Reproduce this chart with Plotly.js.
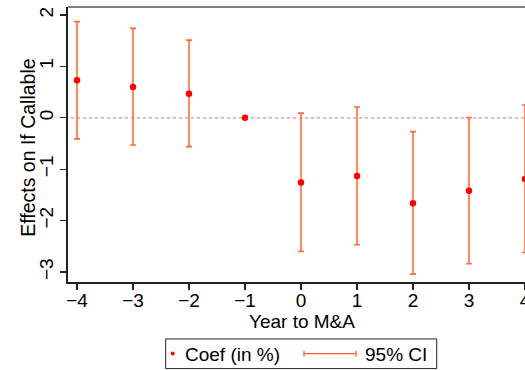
<!DOCTYPE html>
<html>
<head>
<meta charset="utf-8">
<script src="https://cdn.plot.ly/plotly-3.0.1.min.js"></script>
<style>
html, body { margin: 0; padding: 0; overflow: hidden; background: #fff; width: 525px; height: 370px; }
#chart { width: 545px; height: 370px; }
</style>
</head>
<body>
<div id="chart"></div>
<script>
// Data
const years = [-4, -3, -2, -1, 0, 1, 2, 3, 4];
const coef  = [0.73, 0.60, 0.47, 0.00, -1.26, -1.13, -1.66, -1.42, -1.19];
const ciLow = [-0.41, -0.53, -0.56, null, -2.60, -2.47, -3.04, -2.84, -2.62];
const ciHigh = [1.87, 1.74, 1.51, null, 0.09, 0.21, -0.27, 0.005, 0.25];
const xTicks = [-4, -3, -2, -1, 0, 1, 2, 3, 4];
const yTicks = [-3, -2, -1, 0, 1, 2];
const labels = { x: 'Year to M&A', y: 'Effects on If Callable', coef: 'Coef (in %)', ci: '95% CI' };

const W = 545, H = 370;
const M = { l: 68, r: 11, t: 7, b: 87.7 };
const pw = W - M.l - M.r, ph = H - M.t - M.b;
const px = x => (x - M.l) / pw;         // pixel -> paper x
const py = y => (H - M.b - y) / ph;     // pixel -> paper y

const errPlus = coef.map((c, i) => ciHigh[i] == null ? NaN : ciHigh[i] - c);
const errMinus = coef.map((c, i) => ciLow[i] == null ? NaN : c - ciLow[i]);

const ciColor = '#ff6a3d';
const font = 'Liberation Sans, Arial, Helvetica, sans-serif';

const trace = {
  x: years, y: coef, type: 'scatter', mode: 'markers',
  marker: { color: '#ff0000', size: 6.5 },
  error_y: { type: 'data', symmetric: false, array: errPlus, arrayminus: errMinus,
             color: ciColor, thickness: 1.6, width: 3 },
  showlegend: false, hoverinfo: 'skip'
};

const legY = 354;
const shapes = [
  // zero reference line
  { type: 'line', xref: 'paper', yref: 'y', x0: px(71), x1: 1, y0: 0, y1: 0,
    line: { color: '#ec8aa5', width: 1.2, dash: 'dot' }, layer: 'below' },
  // top border
  { type: 'line', xref: 'paper', yref: 'paper', x0: 0, x1: 1, y0: 1, y1: 1,
    line: { color: '#808080', width: 1.8 } },
  // legend box
  { type: 'rect', xref: 'paper', yref: 'paper', x0: px(165.7), x1: px(436.7), y0: py(369), y1: py(339.3),
    line: { color: '#222', width: 1 }, fillcolor: '#fff' },
  // legend marker
  { type: 'circle', xref: 'paper', yref: 'paper', x0: px(170.7), x1: px(174.7), y0: py(356), y1: py(352),
    line: { color: '#ff0000', width: 0 }, fillcolor: '#ff0000' },
  // legend CI line with caps
  { type: 'line', xref: 'paper', yref: 'paper', x0: px(304), x1: px(356), y0: py(legY), y1: py(legY),
    line: { color: '#ff5a2a', width: 1.3 } },
  { type: 'line', xref: 'paper', yref: 'paper', x0: px(304), x1: px(304), y0: py(legY - 3), y1: py(legY + 3),
    line: { color: '#ff5a2a', width: 1.3 } },
  { type: 'line', xref: 'paper', yref: 'paper', x0: px(356), x1: px(356), y0: py(legY - 3), y1: py(legY + 3),
    line: { color: '#ff5a2a', width: 1.3 } }
];

const annotations = [
  { text: labels.coef, xref: 'paper', yref: 'paper', x: px(183), y: py(legY + 0.5), xanchor: 'left', yanchor: 'middle',
    showarrow: false, font: { family: font, size: 19, color: '#000' } },
  { text: labels.ci, xref: 'paper', yref: 'paper', x: px(363), y: py(legY + 0.5), xanchor: 'left', yanchor: 'middle',
    showarrow: false, font: { family: font, size: 19, color: '#000' } },
  // axis titles
  { text: labels.x, xref: 'paper', yref: 'paper', x: px(301.5), y: py(321.5), xanchor: 'center', yanchor: 'middle',
    showarrow: false, font: { family: font, size: 19, color: '#000' } },
  { text: labels.y, xref: 'paper', yref: 'paper', x: px(28.5), y: py(147.5), xanchor: 'center', yanchor: 'middle',
    textangle: -90, showarrow: false, font: { family: font, size: 19.5, color: '#000' } }
];

const layout = {
  width: W, height: H,
  margin: M,
  paper_bgcolor: '#fff', plot_bgcolor: '#fff',
  font: { family: font, size: 19, color: '#000' },
  xaxis: {
    range: [-4.161, 4.161], tickvals: xTicks, ticks: 'outside', ticklen: 6, tickwidth: 1.3, tickcolor: '#222',
    showline: true, linecolor: '#222', linewidth: 1.6, showgrid: false, zeroline: false,
    ticklabelstandoff: -5,
    tickfont: { family: font, size: 19 }
  },
  yaxis: {
    range: [-3.194, 2.155], tickvals: yTicks, ticks: 'outside', ticklen: 6, tickwidth: 1.3, tickcolor: '#222',
    showline: true, linecolor: '#222', linewidth: 1.6, showgrid: false, zeroline: false,
    tickangle: -90, tickfont: { family: font, size: 19 }
  },
  shapes: shapes,
  annotations: annotations,
  showlegend: false
};

Plotly.newPlot('chart', [trace], layout, { displayModeBar: false, staticPlot: true });
</script>
</body>
</html>
